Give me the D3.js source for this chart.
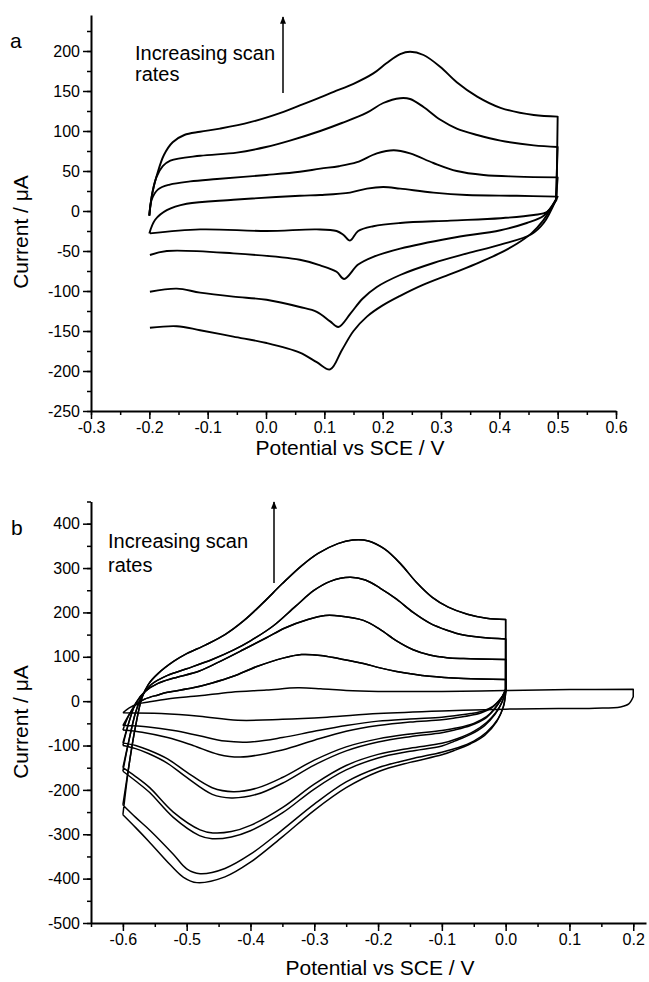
<!DOCTYPE html>
<html>
<head>
<meta charset="utf-8">
<script src="https://cdn.jsdelivr.net/npm/d3@7"></script>
<style>
body { margin: 0; background: #fff; }
text { font-family: Arial, "Liberation Sans", sans-serif; fill: #000; }
</style>
</head>
<body>
<div id="chart"></div>
<script>
const width = 649
const height = 982

// ---- panel a : tick labels
const aXTicks = [-0.3, -0.2, -0.1, 0.0, 0.1, 0.2, 0.3, 0.4, 0.5, 0.6]
const aYTicks = [-250, -200, -150, -100, -50, 0, 50, 100, 150, 200]

// panel a curves [potential V, current uA], forward (anodic) and reverse branches
const a1Fwd = [[-0.2,-5],[-0.195,22],[-0.187,45],[-0.175,70],[-0.16,86],[-0.14,95],[-0.113,99],[-0.079,103],[-0.027,111],[0.03,124],[0.058,132],[0.093,142],[0.116,149],[0.15,159],[0.184,172],[0.207,185],[0.23,196],[0.247,199],[0.27,195],[0.299,180],[0.327,161],[0.362,143],[0.402,129],[0.459,120],[0.5,118]]
const a1Rev = [[0.498,14],[0.49,5],[0.475,-12],[0.455,-28],[0.43,-41],[0.4,-53],[0.36,-66],[0.316,-79],[0.27,-92],[0.23,-106],[0.2,-118],[0.173,-132],[0.15,-150],[0.13,-174],[0.11,-198],[0.087,-189],[0.058,-177],[0.001,-165],[-0.056,-157],[-0.113,-149],[-0.153,-144],[-0.199,-146]]
const a2Fwd = [[-0.2,-6],[-0.196,18],[-0.188,42],[-0.177,56],[-0.164,63],[-0.113,69],[-0.05,73],[0.0,80],[0.041,88],[0.093,100],[0.13,110],[0.173,123],[0.201,135],[0.23,141],[0.247,140],[0.27,130],[0.299,114],[0.327,103],[0.362,95],[0.402,88],[0.459,82],[0.5,80]]
const a2Rev = [[0.497,14],[0.476,-15],[0.455,-29],[0.402,-42],[0.345,-53],[0.287,-65],[0.23,-80],[0.19,-95],[0.165,-110],[0.145,-128],[0.124,-145],[0.11,-138],[0.087,-126],[0.058,-120],[0.001,-111],[-0.056,-107],[-0.113,-102],[-0.153,-97],[-0.199,-101]]
const a3Fwd = [[-0.2,-6],[-0.196,14],[-0.185,27],[-0.165,33],[-0.13,37],[-0.084,40],[0.001,45],[0.058,49],[0.093,53],[0.125,56],[0.156,61],[0.19,72],[0.219,76],[0.247,72],[0.287,60],[0.327,50],[0.373,45],[0.43,43],[0.5,42]]
const a3Rev = [[0.497,14],[0.476,-6],[0.447,-15],[0.402,-24],[0.316,-34],[0.23,-47],[0.185,-57],[0.158,-67],[0.134,-85],[0.121,-76],[0.093,-68],[0.058,-61],[-0.056,-53],[-0.17,-50],[-0.199,-55]]
const a4Fwd = [[-0.2,-28],[-0.19,-11],[-0.17,1],[-0.136,9],[-0.056,14],[0.058,19],[0.093,20],[0.144,23],[0.173,28],[0.201,30],[0.23,28],[0.287,23],[0.344,20],[0.43,19],[0.5,18]]
const a4Rev = [[0.497,14],[0.482,-1],[0.459,-5],[0.402,-9],[0.316,-12],[0.23,-15],[0.184,-19],[0.158,-25],[0.144,-37],[0.133,-30],[0.121,-25],[0.087,-23],[0.001,-25],[-0.113,-23],[-0.199,-28]]

// ---- panel b : tick labels
const bXTicks = [-0.6, -0.5, -0.4, -0.3, -0.2, -0.1, 0.0, 0.1, 0.2]
const bYTicks = [-500, -400, -300, -200, -100, 0, 100, 200, 300, 400]

// panel b curves: one forward branch and two reverse branches (two cycles) per scan rate
const b1Fwd = [[-0.6,-256],[-0.59,-140],[-0.58,-55],[-0.57,8],[-0.56,38],[-0.545,62],[-0.52,90],[-0.5,107],[-0.47,127],[-0.44,150],[-0.41,182],[-0.38,222],[-0.35,265],[-0.32,305],[-0.294,333],[-0.263,355],[-0.24,363],[-0.215,361],[-0.19,343],[-0.165,310],[-0.14,268],[-0.115,234],[-0.09,212],[-0.06,196],[-0.03,187],[0,184]]
const b1Rev1 = [[0,20],[-0.003,-10],[-0.012,-40],[-0.03,-70],[-0.05,-90],[-0.075,-105],[-0.1,-115],[-0.15,-131],[-0.2,-150],[-0.25,-182],[-0.3,-232],[-0.35,-290],[-0.4,-345],[-0.44,-377],[-0.479,-389],[-0.5,-378],[-0.521,-345],[-0.557,-292],[-0.58,-262],[-0.6,-234]]
const b1Rev2 = [[0,18],[-0.004,-14],[-0.014,-46],[-0.033,-77],[-0.055,-96],[-0.08,-111],[-0.1,-121],[-0.15,-138],[-0.2,-159],[-0.25,-195],[-0.3,-246],[-0.35,-306],[-0.4,-363],[-0.44,-396],[-0.484,-409],[-0.505,-397],[-0.525,-370],[-0.56,-315],[-0.58,-285],[-0.6,-256]]
const b2Fwd = [[-0.6,-158],[-0.59,-85],[-0.58,-25],[-0.57,12],[-0.555,38],[-0.53,58],[-0.5,73],[-0.46,94],[-0.427,115],[-0.4,136],[-0.364,170],[-0.33,213],[-0.3,250],[-0.275,270],[-0.244,279],[-0.22,273],[-0.197,255],[-0.171,230],[-0.145,200],[-0.119,176],[-0.092,160],[-0.066,149],[-0.04,144],[0,140]]
const b2Rev1 = [[0,25],[-0.006,-3],[-0.015,-25],[-0.03,-48],[-0.05,-68],[-0.075,-84],[-0.1,-95],[-0.15,-106],[-0.2,-120],[-0.25,-145],[-0.3,-187],[-0.35,-240],[-0.4,-280],[-0.43,-294],[-0.459,-297],[-0.479,-290],[-0.521,-250],[-0.558,-195],[-0.58,-170],[-0.6,-150]]
const b2Rev2 = [[0,22],[-0.007,-6],[-0.017,-30],[-0.033,-55],[-0.055,-75],[-0.08,-90],[-0.1,-101],[-0.15,-113],[-0.2,-128],[-0.25,-155],[-0.3,-198],[-0.35,-252],[-0.4,-292],[-0.43,-306],[-0.46,-310],[-0.48,-303],[-0.521,-262],[-0.558,-206],[-0.58,-180],[-0.6,-158]]
const b3Fwd = [[-0.6,-100],[-0.59,-45],[-0.58,-5],[-0.565,22],[-0.545,40],[-0.52,52],[-0.48,68],[-0.45,88],[-0.41,117],[-0.375,143],[-0.346,165],[-0.31,184],[-0.283,193],[-0.26,192],[-0.223,182],[-0.197,162],[-0.171,136],[-0.145,116],[-0.119,104],[-0.092,98],[-0.066,96],[0,94]]
const b3Rev1 = [[0,28],[-0.008,2],[-0.018,-18],[-0.03,-35],[-0.05,-50],[-0.075,-60],[-0.1,-66],[-0.15,-74],[-0.2,-85],[-0.25,-103],[-0.3,-133],[-0.35,-172],[-0.39,-196],[-0.427,-204],[-0.46,-195],[-0.5,-160],[-0.53,-130],[-0.56,-110],[-0.58,-100],[-0.6,-94]]
const b3Rev2 = [[0,26],[-0.009,0],[-0.02,-22],[-0.033,-40],[-0.055,-55],[-0.08,-65],[-0.1,-71],[-0.15,-80],[-0.2,-92],[-0.25,-112],[-0.3,-144],[-0.35,-185],[-0.39,-210],[-0.43,-218],[-0.46,-210],[-0.5,-172],[-0.53,-140],[-0.56,-118],[-0.58,-107],[-0.6,-100]]
const b4Fwd = [[-0.6,-65],[-0.59,-30],[-0.58,-8],[-0.565,5],[-0.545,14],[-0.53,20],[-0.49,30],[-0.46,41],[-0.427,56],[-0.39,78],[-0.349,97],[-0.32,105],[-0.29,103],[-0.262,96],[-0.223,85],[-0.197,75],[-0.171,67],[-0.119,56],[-0.066,51],[0,49]]
const b4Rev1 = [[0,22],[-0.01,2],[-0.02,-12],[-0.035,-22],[-0.055,-28],[-0.08,-33],[-0.1,-36],[-0.15,-40],[-0.2,-45],[-0.25,-55],[-0.3,-68],[-0.35,-82],[-0.4,-92],[-0.44,-90],[-0.48,-78],[-0.52,-66],[-0.56,-58],[-0.6,-55]]
const b4Rev2 = [[0,20],[-0.011,0],[-0.022,-15],[-0.038,-26],[-0.058,-33],[-0.08,-38],[-0.1,-42],[-0.15,-47],[-0.2,-55],[-0.25,-68],[-0.3,-88],[-0.35,-110],[-0.416,-126],[-0.45,-120],[-0.49,-100],[-0.53,-82],[-0.57,-70],[-0.6,-65]]
const b5Fwd = [[-0.6,-26],[-0.59,-15],[-0.575,-6],[-0.56,-2],[-0.53,5],[-0.48,12],[-0.43,20],[-0.375,25],[-0.326,30],[-0.29,28],[-0.25,24],[-0.2,22],[-0.1,22],[0,24],[0.1,26],[0.2,27]]
const b5Rev = [[0.2,10],[0.193,-6],[0.18,-13],[0.14,-16],[0.05,-17],[0,-18],[-0.05,-20],[-0.1,-22],[-0.2,-28],[-0.28,-36],[-0.35,-41],[-0.42,-43],[-0.48,-34],[-0.54,-28],[-0.6,-26]]

const svg = d3.select("div#chart").append("svg").attr("width", width).attr("height", height)

const xA = d3.scaleLinear().domain([-0.3, 0.6]).range([91, 616])
const yA = d3.scaleLinear().domain([-250, 245]).range([411, 15])
const xB = d3.scaleLinear().domain([-0.65, 0.22]).range([91, 646])
const yB = d3.scaleLinear().domain([-500, 450]).range([923, 501.5])

function loopPath(x, y, fwd, rev) {
    const ln = d3.line().x(d => x(d[0])).y(d => y(d[1])).curve(d3.curveCatmullRom.alpha(0.5))
    return ln(fwd) + ln(rev).replace(/^M/, "L")
}

function drawAxes(x, y, xTicks, yTicks, xMinor, yMinor) {
    const g = svg.append("g")
    const y0 = y.range()[0], x0 = x.range()[0]

    g.append("g").attr("transform", `translate(0,${y0})`)
        .call(d3.axisBottom(x).tickValues(xMinor).tickSize(4).tickFormat(""))
        .call(s => s.select(".domain").remove())
    g.append("g").attr("transform", `translate(${x0},0)`)
        .call(d3.axisLeft(y).tickValues(yMinor).tickSize(4).tickFormat(""))
        .call(s => s.select(".domain").remove())

    g.append("g").attr("transform", `translate(0,${y0})`)
        .call(d3.axisBottom(x).tickValues(xTicks).tickSize(8).tickSizeOuter(0).tickPadding(3)
            .tickFormat(d => d.toFixed(1)))
    g.append("g").attr("transform", `translate(${x0},0)`)
        .call(d3.axisLeft(y).tickValues(yTicks).tickSize(8).tickSizeOuter(0).tickPadding(3)
            .tickFormat(d => String(d)))

    g.selectAll(".tick line").attr("stroke", "#000").attr("stroke-width", 1.5)
    g.selectAll(".domain").attr("stroke", "#000").attr("stroke-width", 2)
    g.selectAll(".tick text").style("font-size", "16px").attr("fill", "#000")
        .style("font-family", "Arial, 'Liberation Sans', sans-serif")
}

// ---- panel a
drawAxes(xA, yA, aXTicks, aYTicks,
    d3.range(-6, 13).map(i => i * 0.05),
    d3.range(-10, 10).map(i => i * 25))

const aLoops = [[a1Fwd, a1Rev], [a2Fwd, a2Rev], [a3Fwd, a3Rev], [a4Fwd, a4Rev]]
svg.append("g").selectAll("path").data(aLoops).enter().append("path")
    .attr("d", d => loopPath(xA, yA, d[0], d[1]))
    .attr("fill", "none").attr("stroke", "#000").attr("stroke-width", 1.9)
    .attr("stroke-linejoin", "round")

// ---- panel b
drawAxes(xB, yB, bXTicks, bYTicks,
    d3.range(-13, 5).map(i => i * 0.05),
    d3.range(-10, 10).map(i => i * 50))

const bCycles = []
;[[b1Fwd, b1Rev1, b1Rev2], [b2Fwd, b2Rev1, b2Rev2], [b3Fwd, b3Rev1, b3Rev2], [b4Fwd, b4Rev1, b4Rev2]].forEach(c => {
    bCycles.push([c[0], c[1]])
    // second cycle starts where the first one ended
    bCycles.push([[c[1][c[1].length - 1]].concat(c[0].slice(1)), c[2]])
})
bCycles.push([b5Fwd, b5Rev])

svg.append("g").selectAll("path").data(bCycles).enter().append("path")
    .attr("d", d => loopPath(xB, yB, d[0], d[1]))
    .attr("fill", "none").attr("stroke", "#000").attr("stroke-width", 1.5)
    .attr("stroke-linejoin", "round")

// ---- labels
const labels = svg.append("g").style("font-size", "20px")
labels.append("text").attr("x", 10).attr("y", 48).style("font-size", "21px").text("a")
labels.append("text").attr("x", 11).attr("y", 535).style("font-size", "21px").text("b")

labels.append("text").attr("x", 350).attr("y", 455).attr("text-anchor", "middle").style("font-size", "21px").text("Potential vs SCE / V")
labels.append("text").attr("x", 380).attr("y", 975).attr("text-anchor", "middle").style("font-size", "21px").text("Potential vs SCE / V")
labels.append("text").attr("transform", "translate(28,232) rotate(-90)").attr("text-anchor", "middle").style("font-size", "21px").text("Current / μA")
labels.append("text").attr("transform", "translate(28,722) rotate(-90)").attr("text-anchor", "middle").style("font-size", "21px").text("Current / μA")

labels.append("text").attr("x", 135).attr("y", 60).text("Increasing scan")
labels.append("text").attr("x", 135).attr("y", 81).text("rates")
labels.append("text").attr("x", 108).attr("y", 548).text("Increasing scan")
labels.append("text").attr("x", 108).attr("y", 572).text("rates")

// arrows
svg.append("defs").append("marker").attr("id", "head")
    .attr("viewBox", "0 0 10 10").attr("refX", 9).attr("refY", 5)
    .attr("markerWidth", 5).attr("markerHeight", 7).attr("orient", "auto")
    .append("path").attr("d", "M0,1 L10,5 L0,9 Z").attr("fill", "#000")
svg.append("line").attr("x1", 283).attr("y1", 93).attr("x2", 283).attr("y2", 17)
    .attr("stroke", "#000").attr("stroke-width", 1.5).attr("marker-end", "url(#head)")
svg.append("line").attr("x1", 274).attr("y1", 583).attr("x2", 274).attr("y2", 502)
    .attr("stroke", "#000").attr("stroke-width", 1.5).attr("marker-end", "url(#head)")
</script>
</body>
</html>
